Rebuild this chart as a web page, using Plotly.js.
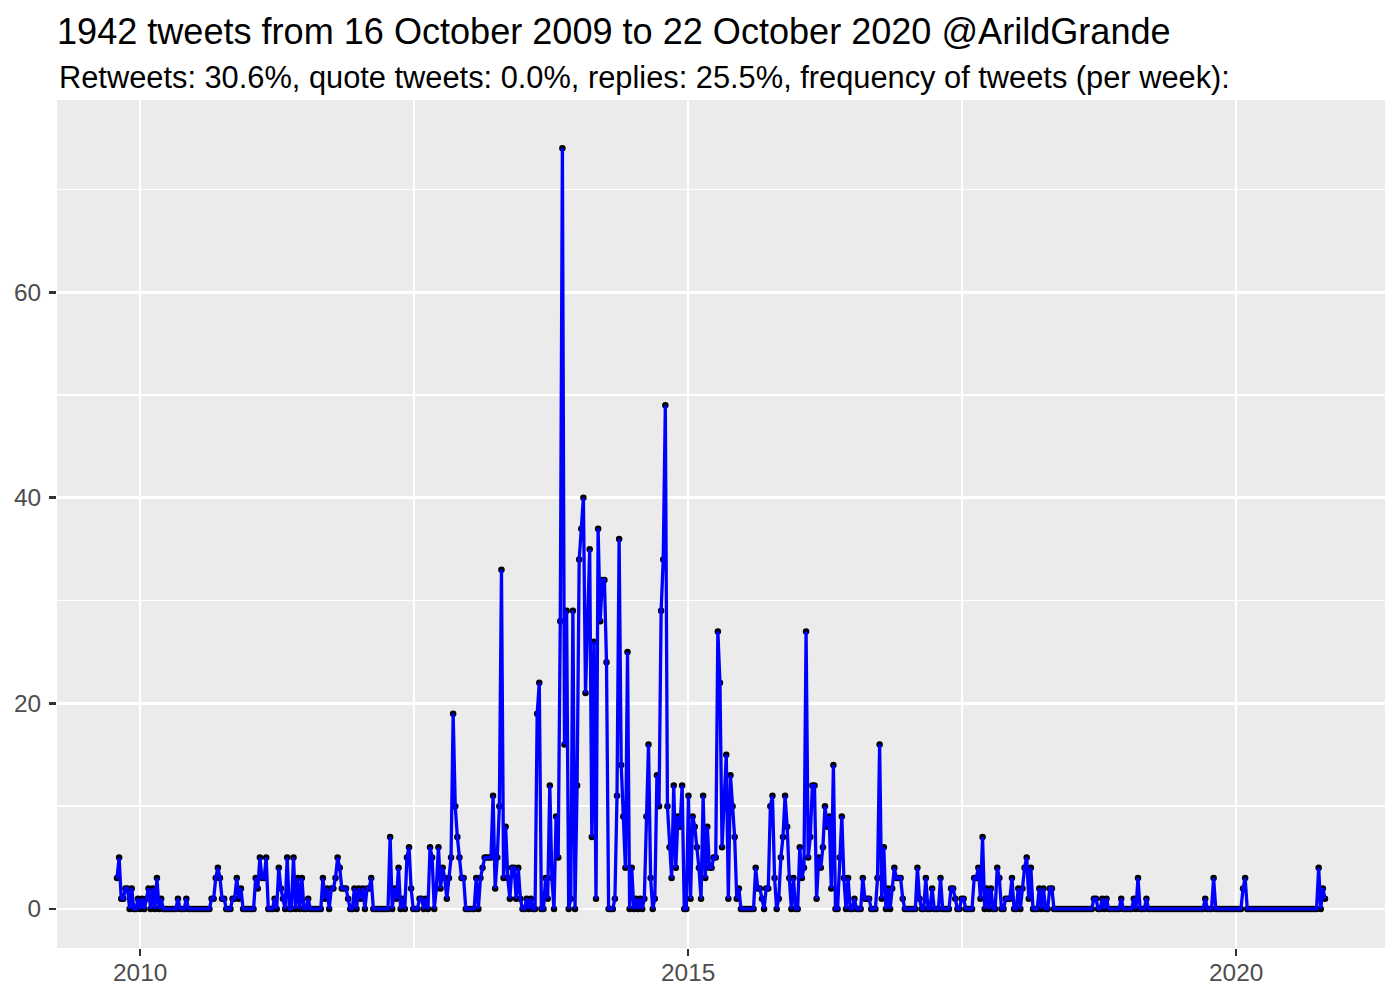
<!DOCTYPE html>
<html>
<head>
<meta charset="utf-8">
<script src="https://cdn.plot.ly/plotly-3.0.1.min.js"></script>
<style>html,body{margin:0;padding:0;background:#fff;}</style>
</head>
<body>
<div id="chart" style="width:1400px;height:1000px;"></div>
<script>
// ---- data ----
const firstWeek = '2009-10-16';
const weeklyTweets = [
  3,5,1,1,2,2,0,2,0,0,
  1,0,1,0,1,2,0,2,0,3,
  0,1,0,0,0,0,0,0,0,1,
  0,0,0,1,0,0,0,0,0,0,
  0,0,0,0,0,1,1,3,4,3,
  1,1,0,0,0,1,1,3,1,2,
  0,0,0,0,0,0,3,2,5,3,
  3,5,0,0,0,1,0,4,2,1,
  0,5,0,0,5,0,3,0,3,0,
  0,1,0,0,0,0,0,0,3,1,
  2,0,2,2,3,5,4,2,2,2,
  1,0,0,2,0,2,1,2,0,2,
  2,3,0,0,0,0,0,0,0,0,
  7,0,2,1,4,0,1,0,5,6,
  2,0,0,0,1,1,0,1,0,6,
  5,0,2,6,2,4,3,1,3,5,
  19,10,7,5,3,3,0,0,0,0,
  0,3,0,3,4,5,5,5,5,11,
  2,5,10,33,3,8,3,1,4,4,
  1,4,1,0,0,1,0,1,0,0,
  19,22,0,0,3,1,12,3,0,9,
  5,28,74,16,29,0,1,29,0,12,
  34,37,40,21,28,35,7,26,1,37,
  28,32,32,24,0,0,0,1,11,36,
  14,9,4,25,0,4,0,1,0,1,
  0,1,9,16,3,0,1,13,10,29,
  34,49,10,6,3,12,4,9,8,12,
  0,0,11,1,9,8,6,4,1,11,
  3,8,4,4,5,5,27,22,6,10,
  15,1,13,10,7,1,2,0,0,0,
  0,0,0,0,4,2,2,1,0,2,
  2,10,11,3,0,1,5,7,11,8,
  3,0,3,0,0,6,3,4,27,5,
  7,12,12,1,5,4,6,10,8,9,
  2,14,0,0,5,9,3,0,3,0,
  0,1,0,0,0,3,1,1,1,0,
  0,0,3,16,1,6,0,2,0,2,
  4,3,3,3,1,0,0,0,0,0,
  0,4,1,0,0,3,0,0,2,0,
  0,0,3,0,0,0,0,2,2,1,
  0,0,1,1,0,0,0,0,3,3,
  4,1,7,0,2,0,2,0,0,4,
  3,0,0,1,1,1,3,0,0,2,
  0,2,4,5,1,4,0,0,0,2,
  0,2,0,0,2,2,0,0,0,0,
  0,0,0,0,0,0,0,0,0,0,
  0,0,0,0,0,1,1,0,0,1,
  0,1,0,0,0,0,0,0,1,0,
  0,0,0,0,1,0,3,0,0,0,
  1,0,0,0,0,0,0,0,0,0,
  0,0,0,0,0,0,0,0,0,0,
  0,0,0,0,0,0,0,0,1,0,
  0,0,3,0,0,0,0,0,0,0,
  0,0,0,0,0,0,2,3,0,0,
  0,0,0,0,0,0,0,0,0,0,
  0,0,0,0,0,0,0,0,0,0,
  0,0,0,0,0,0,0,0,0,0,
  0,0,4,0,2,1
];
const xTickDates = ['2010-01-01', '2015-01-01', '2020-01-01'];
const xTickLabels = ['2010', '2015', '2020'];
const xMinorDates = ['2012-07-02', '2017-07-02'];
const yTickValues = [0, 20, 40, 60];
const yTickLabels = ['0', '20', '40', '60'];
const yMinorValues = [10, 30, 50, 70];
const titleText = '1942 tweets from 16 October 2009 to 22 October 2020 @ArildGrande';
const subtitleText = 'Retweets: 30.6%, quote tweets: 0.0%, replies: 25.5%, frequency of tweets (per week):';

// weekly bin dates
const start = Date.parse(firstWeek + 'T00:00:00Z');
const weekDates = weeklyTweets.map((_, i) => new Date(start + i * 7 * 86400000).toISOString().slice(0, 10));

const FONT = 'Liberation Sans, Arial, Helvetica, sans-serif';

const traces = [
  {
    type: 'scatter', mode: 'markers', x: weekDates, y: weeklyTweets,
    marker: {color: '#000000', size: 6.5}, hoverinfo: 'skip', showlegend: false
  },
  {
    type: 'scatter', mode: 'lines', x: weekDates, y: weeklyTweets,
    line: {color: '#0000FF', width: 3.3}, showlegend: false
  }
];

const axisCommon = {
  showgrid: true, gridcolor: '#FFFFFF', gridwidth: 2.7,
  zeroline: false, showline: false,
  ticks: 'outside', ticklen: 7, tickwidth: 2.7, tickcolor: '#333333',
  tickfont: {family: FONT, size: 24.4, color: '#4D4D4D'},
  tickmode: 'array'
};

const layout = {
  width: 1400, height: 1000,
  margin: {l: 57, r: 15, t: 100, b: 52},
  paper_bgcolor: '#FFFFFF', plot_bgcolor: '#EBEBEB',
  font: {family: FONT, color: '#000000'},
  showlegend: false,
  title: {
    text: titleText, xref: 'container', x: 57 / 1400, xanchor: 'left',
    yref: 'container', y: 1 - 31 / 1000, yanchor: 'middle',
    font: {family: FONT, size: 36.1, color: '#000000'}
  },
  annotations: [{
    text: subtitleText, showarrow: false,
    xref: 'paper', x: 0, xanchor: 'left',
    yref: 'paper', y: (948 - 77) / 848, yanchor: 'middle',
    font: {family: FONT, size: 30.8, color: '#000000'}
  }],
  xaxis: Object.assign({}, axisCommon, {
    type: 'date', range: ['2009-03-30', '2021-05-11'],
    tickvals: xTickDates, ticktext: xTickLabels, ticklabelstandoff: -4,
    minor: {tickmode: 'array', tickvals: xMinorDates, showgrid: true, gridcolor: '#FFFFFF', gridwidth: 1.35, ticks: ''}
  }),
  yaxis: Object.assign({}, axisCommon, {
    range: [-3.8, 78.7],
    tickvals: yTickValues, ticktext: yTickLabels, ticklabelstandoff: 3,
    minor: {tickmode: 'array', tickvals: yMinorValues, showgrid: true, gridcolor: '#FFFFFF', gridwidth: 1.35, ticks: ''}
  })
};

Plotly.newPlot('chart', traces, layout, {displayModeBar: false, staticPlot: true});
</script>
</body>
</html>
